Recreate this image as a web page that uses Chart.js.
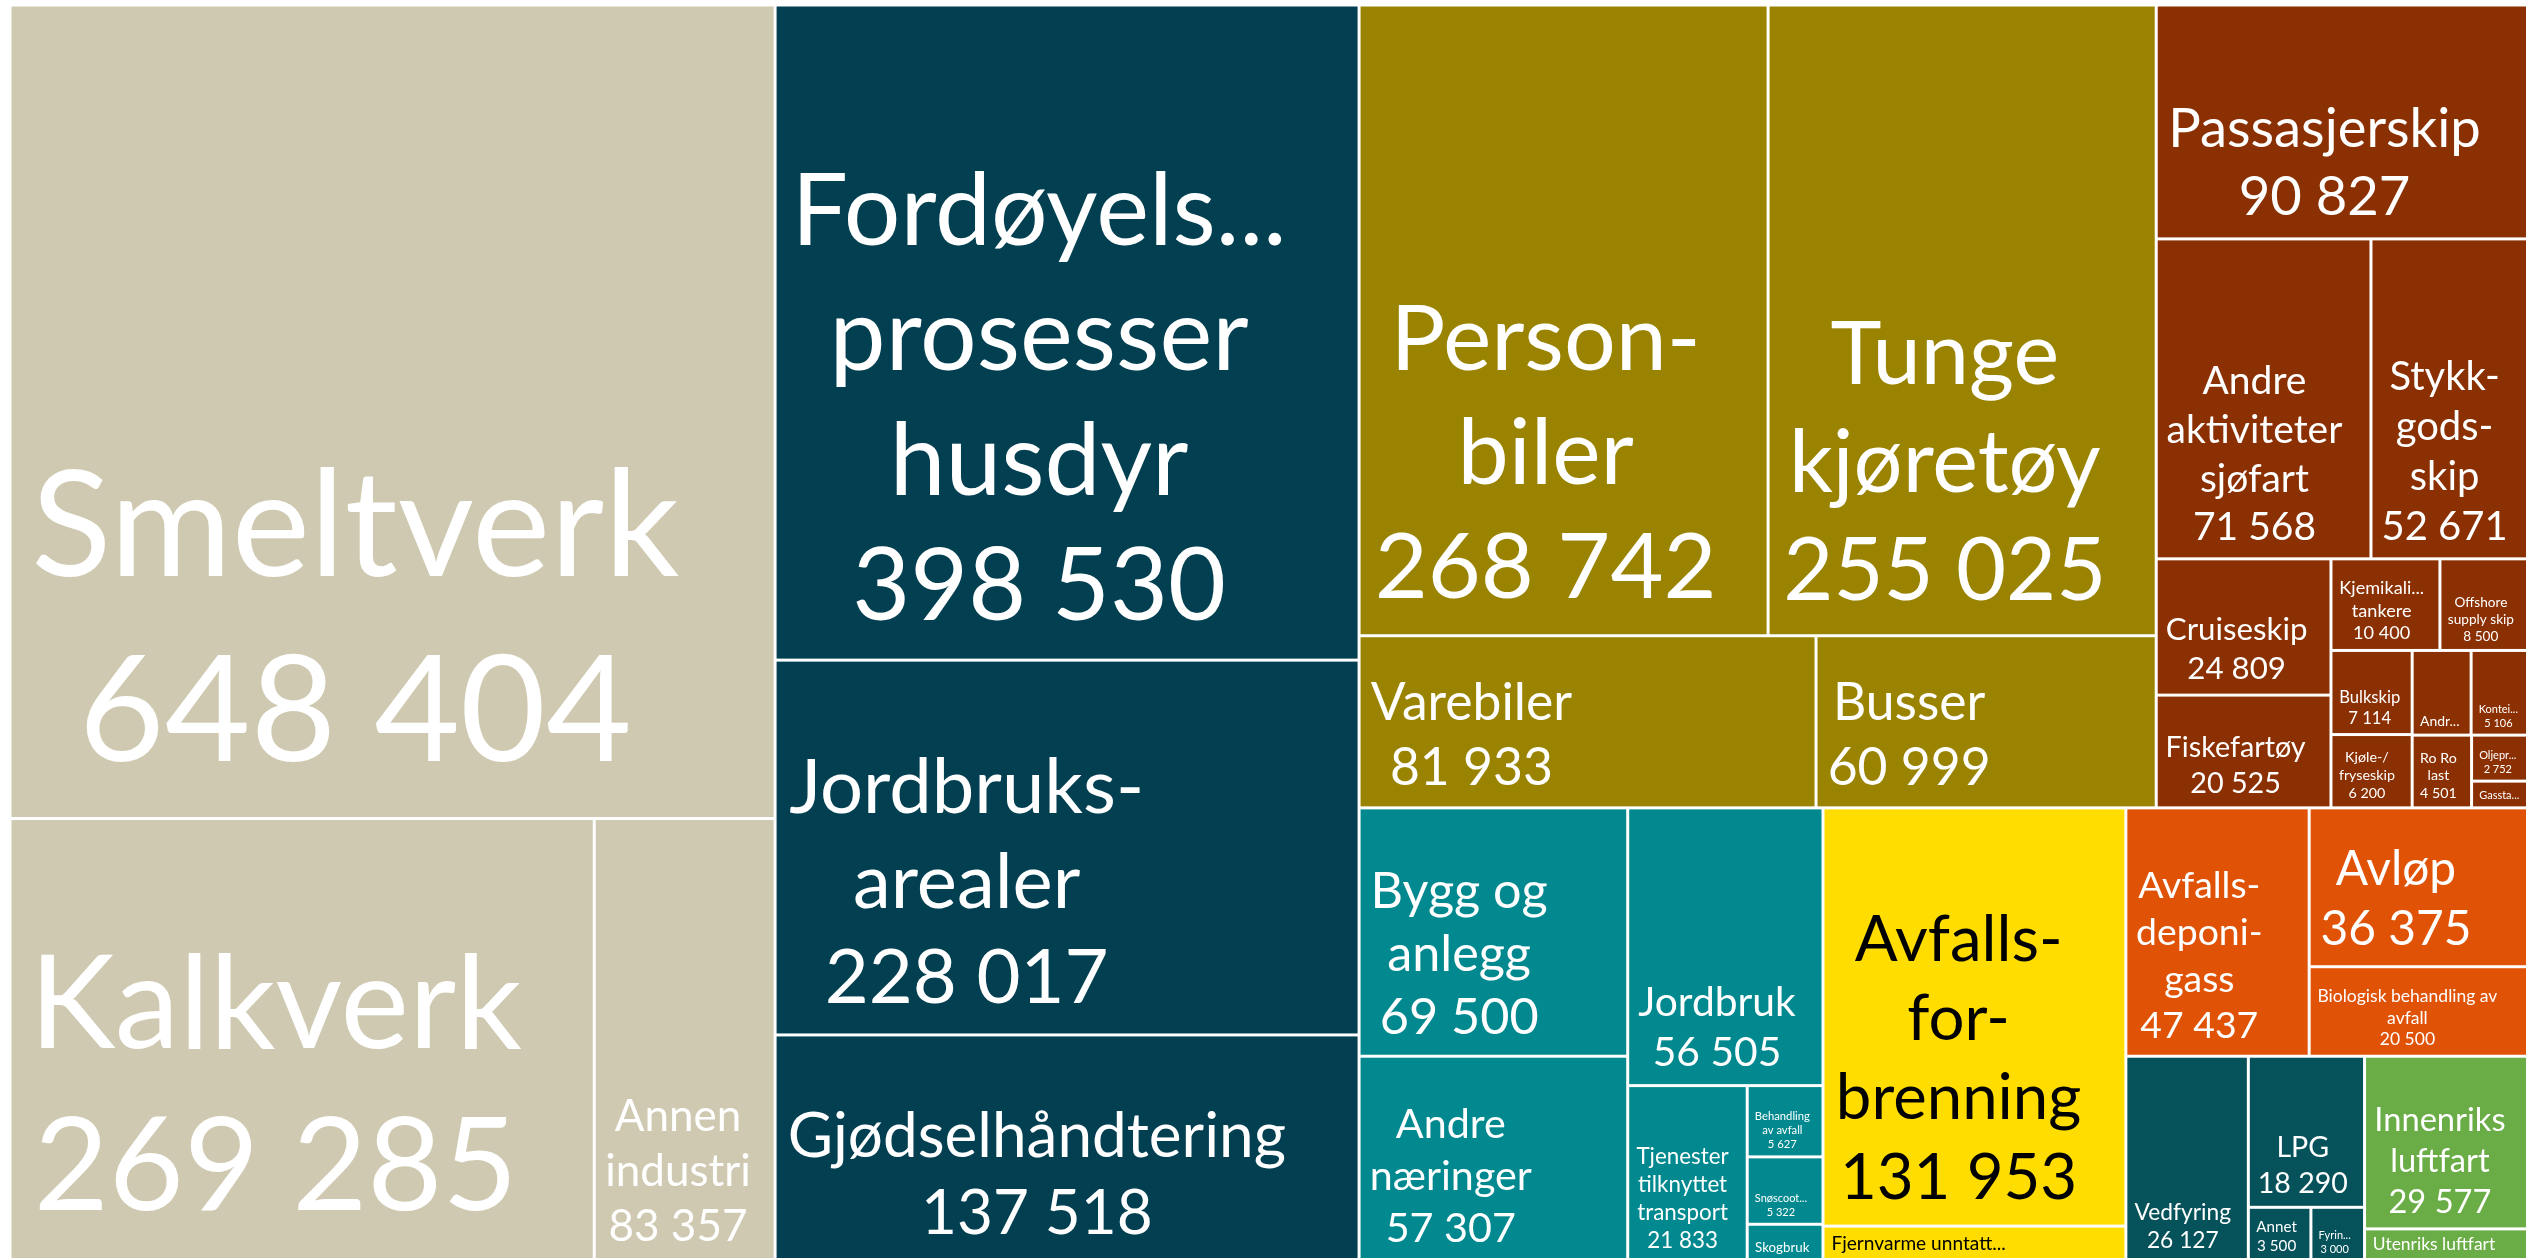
<!DOCTYPE html>
<html>
<head>
<meta charset="utf-8">
<script src="https://cdn.jsdelivr.net/npm/chart.js@4"></script>
<style>
  html, body { margin: 0; padding: 0; background: #fff; overflow: hidden; }
  #wrap { width: 2529px; height: 1261px; }
</style>
</head>
<body>
<div id="wrap"><canvas id="myChart" width="2529" height="1261"></canvas></div>
<script>
// sectors (top level of the treemap)
const sectors = ['Industri', 'Jordbruk', 'Veitrafikk', 'Sjøfart', 'Andre mobile kilder', 'Energiforsyning', 'Avfall og avløp', 'Oppvarming', 'Luftfart']
const sectorColors = ['#cec9b0', '#023f51', '#998300', '#8a3002', '#02898f', '#ffdd00', '#e05206', '#05525a', '#6aad46']
const labelColors = ['#ffffff', '#ffffff', '#ffffff', '#ffffff', '#ffffff', '#000000', '#ffffff', '#ffffff', '#ffffff']

// sources (leaves); a trailing '-' or '/' marks a forced line break
const categories = [
  'Smeltverk', 'Kalkverk', 'Annen industri',
  'Fordøyelses-prosesser husdyr', 'Jordbruks-arealer', 'Gjødselhåndtering',
  'Person-biler', 'Tunge kjøretøy', 'Varebiler', 'Busser',
  'Passasjerskip', 'Andre aktiviteter sjøfart', 'Stykk-gods-skip', 'Cruiseskip', 'Fiskefartøy',
  'Kjemikalie-tankere', 'Offshore supply skip', 'Bulkskip', 'Kjøle-/fryseskip', 'Andre offshore service skip',
  'Konteinerskip', 'Ro Ro last', 'Oljeprodukttankere', 'Gasstankskip',
  'Bygg og anlegg', 'Andre næringer', 'Jordbruk', 'Tjenester tilknyttet transport', 'Behandling av avfall', 'Snøscootere', 'Skogbruk',
  'Avfalls-for-brenning', 'Fjernvarme unntatt avfallsforbrenning',
  'Avfalls-deponi-gass', 'Avløp', 'Biologisk behandling av avfall',
  'Vedfyring', 'LPG', 'Annet', 'Fyringsolje',
  'Innenriks luftfart', 'Utenriks luftfart'
]
const sectorOf = [0, 0, 0, 1, 1, 1, 2, 2, 2, 2,
  3, 3, 3, 3, 3, 3, 3, 3, 3, 3, 3, 3, 3, 3,
  4, 4, 4, 4, 4, 4, 4, 5, 5, 6, 6, 6, 7, 7, 7, 7, 8, 8]
const values = [648404, 269285, 83357, 398530, 228017, 137518, 268742, 255025, 81933, 60999,
  90827, 71568, 52671, 24809, 20525, 10400, 8500, 7114, 6200, 5200, 5106, 4501, 2752, 1600,
  69500, 57307, 56505, 21833, 5627, 5322, 2900, 131953, 11000, 47437, 36375, 20500,
  26127, 18290, 3500, 3000, 29577, 5500]

const RHO = 1.2 // preferred cell height/width
const FONT = 'Lato'
const LH = 1.25
const MIN_FONT = 11

// build hierarchy
const groups = sectors.map((name, i) => ({ i, name, children: [] }))
categories.forEach((c, k) => groups[sectorOf[k]].children.push({ k, label: c, value: values[k], sector: sectorOf[k] }))
groups.forEach(g => {
  g.value = g.children.reduce((s, c) => s + c.value, 0)
  g.children.sort((a, b) => b.value - a.value)
})
const sortedGroups = groups.slice().sort((a, b) => b.value - a.value)

function fmt(v) { return String(v).replace(/\B(?=(\d{3})+(?!\d))/g, ' ') }

function cellScore(w, h) { const a = h / w; return Math.max(a / RHO, RHO / a) }

function worst(row, sum, total, pw, ph, horizontal) {
  let m = 0
  for (const n of row) {
    let w, h
    if (horizontal) { h = ph * sum / total; w = pw * n.value / sum }
    else { w = pw * sum / total; h = ph * n.value / sum }
    m = Math.max(m, cellScore(w, h))
  }
  return m
}

// squarified layout in scale units; sx/sy = pixels per unit
function squarify(nodes, rect, sx, sy, out) {
  const rest = nodes.slice()
  let r = { x: rect.x, y: rect.y, w: rect.w, h: rect.h }
  let total = rest.reduce((s, n) => s + n.value, 0)
  while (rest.length) {
    const pw = r.w * sx, ph = r.h * sy
    const horizontal = pw <= ph
    let row = [], best = Infinity, rowSum = 0
    while (rest.length) {
      const cand = row.concat(rest[0])
      const sum = rowSum + rest[0].value
      const sc = worst(cand, sum, total, pw, ph, horizontal)
      if (row.length && sc > best) break
      row = cand; rowSum = sum; best = sc; rest.shift()
    }
    const frac = rest.length ? rowSum / total : 1
    if (horizontal) {
      const th = r.h * frac
      let cx = r.x
      for (const n of row) { const cw = r.w * n.value / rowSum; out.push({ node: n, x: cx, y: r.y, w: cw, h: th }); cx += cw }
      r = { x: r.x, y: r.y + th, w: r.w, h: r.h - th }
    } else {
      const tw = r.w * frac
      let cy = r.y
      for (const n of row) { const ch = r.h * n.value / rowSum; out.push({ node: n, x: r.x, y: cy, w: tw, h: ch }); cy += ch }
      r = { x: r.x + tw, y: r.y, w: r.w - tw, h: r.h }
    }
    total -= rowSum
  }
}

function tokenize(label) {
  const out = []
  for (const word of label.split(' ')) {
    const parts = word.match(/[^-\/]+[-\/]*|[-\/]+/g) || [word]
    parts.forEach(p => out.push({ t: p, brk: /[-\/]$/.test(p) }))
  }
  return out
}

function wrap(ctx, tokens, maxW) {
  const lines = []
  let cur = null
  for (const tk of tokens) {
    if (cur === null) cur = { text: tk.t, soft: tk.brk }
    else {
      const test = cur.text + ' ' + tk.t
      if (ctx.measureText(test).width <= maxW) { cur.text = test; cur.soft = tk.brk }
      else { lines.push(cur); cur = { text: tk.t, soft: tk.brk } }
    }
    if (tk.brk) { lines.push(cur); cur = null }
  }
  if (cur) lines.push(cur)
  return lines
}

const fontOf = f => f + 'px ' + FONT
const padOf = f => 5 + 0.1 * f
const maxWOf = (W, f) => W * 0.88 - 6 - 0.1 * f

function fitLabel(ctx, label, valueStr, W, H) {
  const tokens = tokenize(label)
  let full = null
  for (let f = Math.min(300, H); f >= MIN_FONT; f -= 0.5) {
    const mw = maxWOf(W, f)
    if (mw <= 0) continue
    ctx.font = fontOf(f)
    const lines = wrap(ctx, tokens, mw)
    lines.push({ text: valueStr, soft: false })
    if (lines.length * LH * f > H * 0.77) continue
    if (lines.some(l => !l.soft && ctx.measureText(l.text).width > mw)) continue
    full = { f, lines }
    break
  }
  // single line candidate for flat cells
  let fOne = 0.75 * H / LH
  ctx.font = fontOf(fOne)
  const tw = ctx.measureText(tokens[0].t).width
  const mwOne = maxWOf(W, fOne)
  if (tw > mwOne) fOne = fOne * Math.max(mwOne, 1) / tw * 0.97
  if (full && !(full.f < 14 && fOne >= 1.3 * full.f)) return full
  if (fOne >= MIN_FONT) {
    ctx.font = fontOf(fOne)
    const lines = wrap(ctx, tokens, maxWOf(W, fOne))
    return { f: fOne, lines: [{ text: lines[0].text + (lines.length > 1 ? '...' : ''), soft: true }] }
  }
  if (full) return full
  const f = MIN_FONT
  ctx.font = fontOf(f)
  const lines = wrap(ctx, tokens, maxWOf(W, f))
  lines.push({ text: valueStr, soft: false })
  const n = Math.max(0, Math.floor(H * 0.9 / (LH * f)))
  return { f, lines: lines.slice(0, n) }
}

function truncate(ctx, text, maxW) {
  if (ctx.measureText(text).width <= maxW) return text
  let t = text.replace(/\.\.\.$/, '')
  while (t.length > 1 && ctx.measureText(t + '...').width > maxW) t = t.slice(0, -1)
  return t + '...'
}

const treemap = {
  id: 'treemap',
  afterDatasetsDraw(chart) {
    const { ctx, chartArea, scales } = chart
    const xs = scales.x, ys = scales.y
    const sx = chartArea.width, sy = chartArea.height
    const groupRects = []
    squarify(sortedGroups, { x: 0, y: 0, w: 1, h: 1 }, sx, sy, groupRects)
    const leaves = []
    groupRects.forEach(g => squarify(g.node.children, g, sx, sy, leaves))

    ctx.save()
    for (const l of leaves) {
      const x0 = xs.getPixelForValue(l.x), x1 = xs.getPixelForValue(l.x + l.w)
      const y0 = ys.getPixelForValue(l.y), y1 = ys.getPixelForValue(l.y + l.h)
      const rx = x0 + 1.5, ry = y0 + 1.5, rw = x1 - x0 - 3, rh = y1 - y0 - 3
      if (rw <= 0 || rh <= 0) continue
      ctx.fillStyle = sectorColors[l.node.sector]
      ctx.fillRect(rx, ry, rw, rh)

      const fit = fitLabel(ctx, l.node.label, fmt(l.node.value), rw, rh)
      if (!fit.lines.length) continue
      const f = fit.f
      ctx.font = fontOf(f)
      const maxW = Math.max(maxWOf(rw, f), 4)
      const lines = fit.lines.map(li => truncate(ctx, li.text, maxW))
      const widths = lines.map(t => ctx.measureText(t).width)
      const blockW = Math.max(...widths)
      const left = rx + Math.min(padOf(f), Math.max(2, (rw - blockW) / 2))
      const lastBase = ry + rh - 3 - 0.36 * f
      ctx.save()
      ctx.beginPath()
      ctx.rect(rx, ry, rw, rh)
      ctx.clip()
      ctx.fillStyle = labelColors[l.node.sector]
      ctx.textAlign = 'left'
      ctx.textBaseline = 'alphabetic'
      lines.forEach((t, i) => {
        const yy = lastBase - (lines.length - 1 - i) * LH * f
        ctx.fillText(t, left + (blockW - widths[i]) / 2, yy)
      })
      ctx.restore()
    }
    ctx.restore()
  }
}

new Chart(document.getElementById('myChart'), {
  type: 'scatter',
  data: { datasets: [{ data: [] }] },
  options: {
    responsive: false,
    animation: false,
    devicePixelRatio: 1,
    layout: { padding: { left: 10, top: 5, right: 0, bottom: 0 } },
    scales: {
      x: { type: 'linear', min: 0, max: 1, display: false },
      y: { type: 'linear', min: 0, max: 1, reverse: true, display: false }
    },
    plugins: { legend: { display: false }, tooltip: { enabled: false } }
  },
  plugins: [treemap]
})
</script>
</body>
</html>
